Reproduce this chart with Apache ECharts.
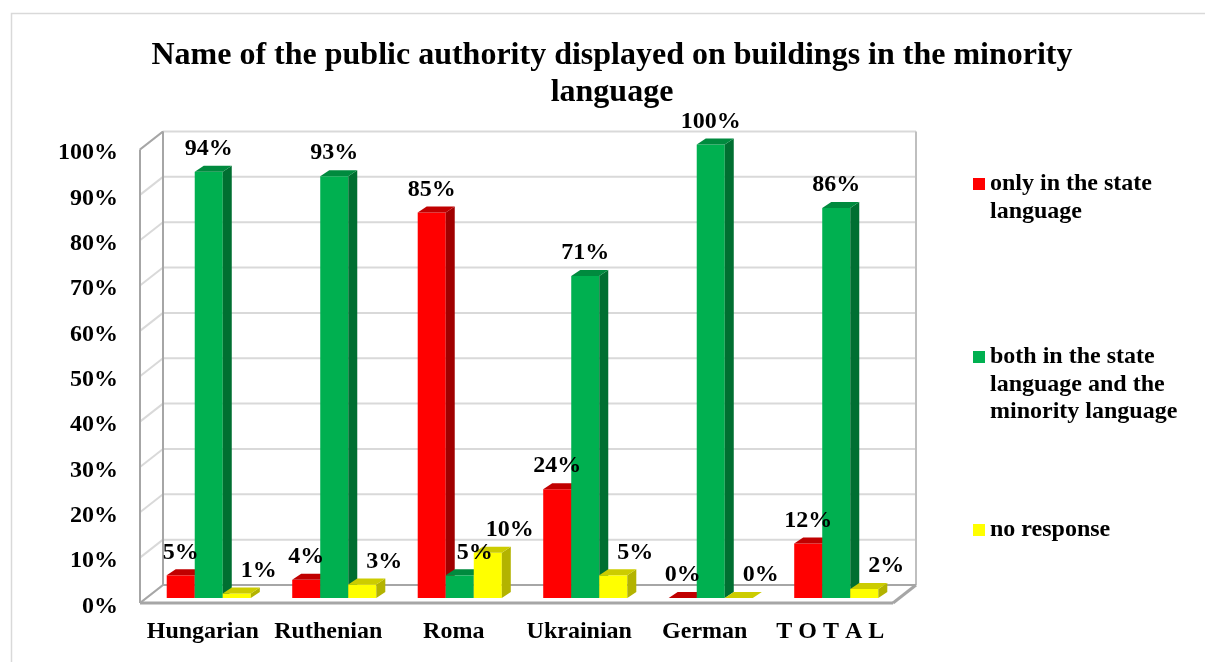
<!DOCTYPE html>
<html>
<head>
<meta charset="utf-8">
<title>Name of the public authority displayed on buildings in the minority language</title>
<script src="https://cdn.jsdelivr.net/npm/echarts@6.0.0/dist/echarts.min.js"></script>
<style>
  html, body { margin: 0; padding: 0; background: #fff; }
  #chart { width: 1205px; height: 662px; }
</style>
</head>
<body>
<div id="chart"></div>
<script>
// Survey answers per minority, in percent
const categories = ['Hungarian', 'Ruthenian', 'Roma', 'Ukrainian', 'German', 'T O T A L'];
const onlyStateLanguage = [5, 4, 85, 24, 0, 12];
const bothLanguages = [94, 93, 5, 71, 100, 86];
const noResponse = [1, 3, 10, 5, 0, 2];
const yTicks = [0, 10, 20, 30, 40, 50, 60, 70, 80, 90, 100];
const seriesNames = ['only in the state language', 'both in the state language and the minority language', 'no response'];
const legendLabels = ['only in the state\nlanguage', 'both in the state\nlanguage and the\nminority language', 'no response'];

const FONT = '"Liberation Serif", "Times New Roman", serif';
// Pseudo-3D offsets (pixels) from the plane the columns stand in
const BACK = [17, -13];
const FRONT = [-6, 5];
const BAR_DEPTH = [9, -6];

function line(x1, y1, x2, y2, stroke, w) {
  return { type: 'line', shape: { x1, y1, x2, y2 }, style: { stroke, lineWidth: w }, silent: true };
}

// Back-wall gridlines and left-wall diagonals for every tick
function renderWall(params, api) {
  const cs = params.coordSys;
  const y = api.coord([0, api.value(1)])[1];
  const xl = cs.x, xr = cs.x + cs.width;
  return {
    type: 'group',
    children: [
      line(xl + BACK[0], y + BACK[1], xr + BACK[0], y + BACK[1], '#d9d9d9', 2),
      line(xl + FRONT[0], y + FRONT[1], xl + BACK[0], y + BACK[1], '#d9d9d9', 2)
    ]
  };
}

// Outline of the walls and floor
function renderFrame(params, api) {
  const cs = params.coordSys;
  const xl = cs.x, xr = cs.x + cs.width;
  const yb = api.coord([0, 0])[1], yt = api.coord([0, 100])[1];
  const c = '#a6a6a6';
  return {
    type: 'group',
    children: [
      line(xl + FRONT[0], yt + FRONT[1], xl + FRONT[0], yb + FRONT[1], c, 2),
      line(xl + BACK[0], yt + BACK[1], xl + BACK[0], yb + BACK[1], c, 2),
      line(xl + FRONT[0], yt + FRONT[1], xl + BACK[0], yt + BACK[1], c, 2),
      line(xr + BACK[0], yt + BACK[1], xr + BACK[0], yb + BACK[1], '#bfbfbf', 2),
      line(xl + BACK[0], yb + BACK[1], xr + BACK[0], yb + BACK[1], c, 2),
      line(xl + FRONT[0], yb + FRONT[1], xl + BACK[0], yb + BACK[1], c, 2),
      line(xr + FRONT[0], yb + FRONT[1], xr + BACK[0], yb + BACK[1], c, 3),
      line(xl + FRONT[0], yb + FRONT[1], xr + FRONT[0], yb + FRONT[1], c, 3)
    ]
  };
}

// A column with front, top and right faces plus its value label
function columnRenderer(colors, slot, labelDx) {
  return function (params, api) {
    const idx = api.value(0), val = api.value(1);
    const base = api.coord([idx, 0]);
    const head = api.coord([idx, val]);
    const band = api.size([1, 0])[0];
    const w = band * 0.2233;
    const cx = base[0] + slot * w;
    const x0 = cx - w / 2, x1 = cx + w / 2;
    const yt = head[1], yb = base[1];
    const dx = BAR_DEPTH[0], dy = BAR_DEPTH[1];
    const children = [];
    if (yb - yt > 0.5) {
      children.push({ type: 'rect', shape: { x: x0, y: yt, width: w, height: yb - yt }, style: { fill: colors[0] } });
      children.push({ type: 'polygon', shape: { points: [[x1, yt], [x1 + dx, yt + dy], [x1 + dx, yb + dy], [x1, yb]] }, style: { fill: colors[2] } });
    }
    children.push({ type: 'polygon', shape: { points: [[x0, yt], [x1, yt], [x1 + dx, yt + dy], [x0 + dx, yt + dy]] }, style: { fill: colors[1] } });
    children.push({
      type: 'text', z2: 100,
      style: {
        text: val + '%', x: cx + labelDx(idx), y: yt + dy - 17,
        align: 'center', verticalAlign: 'middle',
        font: 'bold 24px ' + FONT, fill: '#000'
      }
    });
    return { type: 'group', children };
  };
}

const toPairs = arr => arr.map((v, i) => [i, v]);

// Legend entries: the marker sits beside the first text line
const legendCenters = [184, 357, 530];
const LINE_H = 27.5;

const chart = echarts.init(document.getElementById('chart'), null, { renderer: 'canvas' });
chart.setOption({
  backgroundColor: '#fff',
  animation: false,
  title: {
    text: 'Name of the public authority displayed on buildings in the minority\nlanguage',
    left: 612, top: 37, padding: 0, textAlign: 'center',
    textStyle: { fontFamily: FONT, fontWeight: 'bold', fontSize: 32, lineHeight: 37, color: '#000' }
  },
  graphic: [{
    type: 'rect', left: 9, top: 11, silent: true,
    shape: { width: 1300, height: 700 },
    style: { fill: 'none', stroke: '#d9d9d9', lineWidth: 1.5 }
  }],
  legend: legendLabels.map((lbl, i) => {
    const n = lbl.split('\n').length;
    const h = (2 * n - 1) * LINE_H;
    return {
      data: [seriesNames[i]],
      left: 973, top: legendCenters[i] - h / 2,
      padding: 0, orient: 'vertical',
      icon: 'rect', itemWidth: 12, itemHeight: 12, itemGap: 0,
      selectedMode: false,
      // leading blank lines balance the block so the first line is level with the marker
      formatter: () => '\n'.repeat(n - 1) + lbl,
      textStyle: {
        fontFamily: FONT, fontWeight: 'bold', fontSize: 24, color: '#000',
        lineHeight: LINE_H
      }
    };
  }),
  grid: [
    { left: 146, top: 144.5, width: 753, height: 453.5 },
    { left: 140, top: 153, width: 753, height: 453.5 }
  ],
  xAxis: [
    { type: 'category', data: categories, gridIndex: 0, show: false },
    {
      type: 'category', data: categories, gridIndex: 1,
      axisLine: { show: false }, axisTick: { show: false },
      axisLabel: { margin: 13, fontFamily: FONT, fontWeight: 'bold', fontSize: 24, color: '#000', interval: 0 }
    }
  ],
  yAxis: [
    { type: 'value', min: 0, max: 100, interval: 10, gridIndex: 0, show: false },
    {
      type: 'value', min: 0, max: 100, interval: 10, gridIndex: 1,
      axisLine: { show: false }, axisTick: { show: false }, splitLine: { show: false },
      axisLabel: { formatter: '{value}%', margin: 22, fontFamily: FONT, fontWeight: 'bold', fontSize: 24, color: '#000' }
    }
  ],
  series: [
    { type: 'custom', name: 'walls', silent: true, xAxisIndex: 0, yAxisIndex: 0, data: yTicks.map(v => [0, v]), renderItem: renderWall },
    { type: 'custom', name: 'frame', silent: true, xAxisIndex: 0, yAxisIndex: 0, data: [[0, 0]], renderItem: renderFrame },
    {
      type: 'custom', name: seriesNames[0], xAxisIndex: 0, yAxisIndex: 0,
      itemStyle: { color: '#FF0000' }, data: toPairs(onlyStateLanguage),
      renderItem: columnRenderer(['#FF0000', '#C00000', '#A00000'], -1, () => 0)
    },
    {
      type: 'custom', name: seriesNames[1], xAxisIndex: 0, yAxisIndex: 0,
      itemStyle: { color: '#00B050' }, data: toPairs(bothLanguages),
      // the low Roma label is nudged right, clear of the tall red column beside it
      renderItem: columnRenderer(['#00B050', '#008A3E', '#006F31'], 0, i => (categories[i] === 'Roma' ? 15 : 0))
    },
    {
      type: 'custom', name: seriesNames[2], xAxisIndex: 0, yAxisIndex: 0,
      itemStyle: { color: '#FFFF00' }, data: toPairs(noResponse),
      renderItem: columnRenderer(['#FFFF00', '#CCCC00', '#B3B300'], 1, () => 22)
    }
  ]
});
</script>
</body>
</html>
